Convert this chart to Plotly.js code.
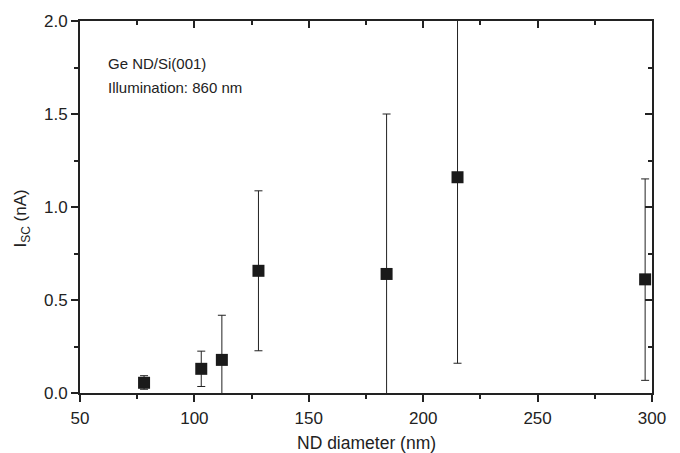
<!DOCTYPE html>
<html>
<head>
<meta charset="utf-8">
<script src="https://cdn.plot.ly/plotly-3.0.1.min.js"></script>
<style>html,body{margin:0;padding:0;background:#fff;}#chart{width:680px;height:453px;}</style>
</head>
<body>
<div id="chart"></div>
<script>
const diameter = [78, 103, 112, 128, 184, 215, 297];
const isc = [0.055, 0.13, 0.178, 0.657, 0.64, 1.16, 0.611];
const errPlus = [0.038, 0.095, 0.24, 0.43, 0.86, 1.0, 0.54];
const errMinus = [0.035, 0.095, 0.2, 0.43, 0.7, 1.0, 0.543];
const noteLines = ["Ge ND/Si(001)", "Illumination: 860 nm"];
const xTitle = "ND diameter (nm)";
const yTitle = "I<sub>SC</sub> (nA)";

const font = {family: "Liberation Sans, Arial, sans-serif", color: "#222"};

const trace = {
  x: diameter, y: isc, type: "scatter", mode: "markers",
  marker: {symbol: "square", size: 12, color: "#1a1a1a"},
  error_y: {type: "data", symmetric: false, array: errPlus, arrayminus: errMinus,
            color: "#222", thickness: 1, width: 4},
  showlegend: false, hoverinfo: "skip"
};
const dummy = {x: [50], y: [0], xaxis: "x2", yaxis: "y2", mode: "markers",
  marker: {opacity: 0}, showlegend: false, hoverinfo: "skip"};

const axisBase = {
  showgrid: false, zeroline: false, showline: true, linecolor: "#222", linewidth: 2,
  tickcolor: "#222", tickwidth: 2, ticklen: 7,
  tickfont: Object.assign({size: 17}, font)
};

const notes = noteLines.map((t, i) => ({
  text: t, xref: "paper", yref: "paper", x: 0.045, y: 0.887 - i * 0.066,
  xanchor: "left", yanchor: "middle", showarrow: false,
  font: Object.assign({size: 15}, font)
}));

const layout = {
  width: 680, height: 453,
  margin: {l: 80, r: 28, t: 21, b: 60},
  paper_bgcolor: "#fff", plot_bgcolor: "#fff",
  font: font,
  xaxis: Object.assign({}, axisBase, {
    range: [50, 300], dtick: 50, tick0: 50, ticks: "outside", ticklabelstandoff: 2,
    minor: {dtick: 25, ticks: "outside", ticklen: 4, tickcolor: "#222", tickwidth: 2}
  }),
  yaxis: Object.assign({}, axisBase, {
    range: [0, 2], dtick: 0.5, tick0: 0, ticks: "outside", tickformat: ".1f",
    minor: {dtick: 0.25, ticks: "outside", ticklen: 4, tickcolor: "#222", tickwidth: 2}
  }),
  xaxis2: Object.assign({}, axisBase, {
    overlaying: "x", side: "top", range: [50, 300], dtick: 50, tick0: 50,
    ticks: "inside", showticklabels: false,
    minor: {dtick: 25, ticks: "inside", ticklen: 4, tickcolor: "#222", tickwidth: 2}
  }),
  yaxis2: Object.assign({}, axisBase, {
    overlaying: "y", side: "right", range: [0, 2], dtick: 0.5, tick0: 0,
    ticks: "inside", showticklabels: false,
    minor: {dtick: 0.25, ticks: "inside", ticklen: 4, tickcolor: "#222", tickwidth: 2}
  }),
  annotations: notes.concat([
    {text: xTitle, xref: "paper", yref: "paper", x: 0.5, y: -0.135,
     xanchor: "center", yanchor: "middle", showarrow: false,
     font: Object.assign({size: 17.5}, font)},
    {text: yTitle, xref: "paper", yref: "paper", x: -0.101, y: 0.47,
     xanchor: "center", yanchor: "middle", showarrow: false, textangle: -90,
     font: Object.assign({size: 17}, font)}
  ])
};

Plotly.newPlot("chart", [dummy, trace], layout, {staticPlot: true, displayModeBar: false});
</script>
</body>
</html>
